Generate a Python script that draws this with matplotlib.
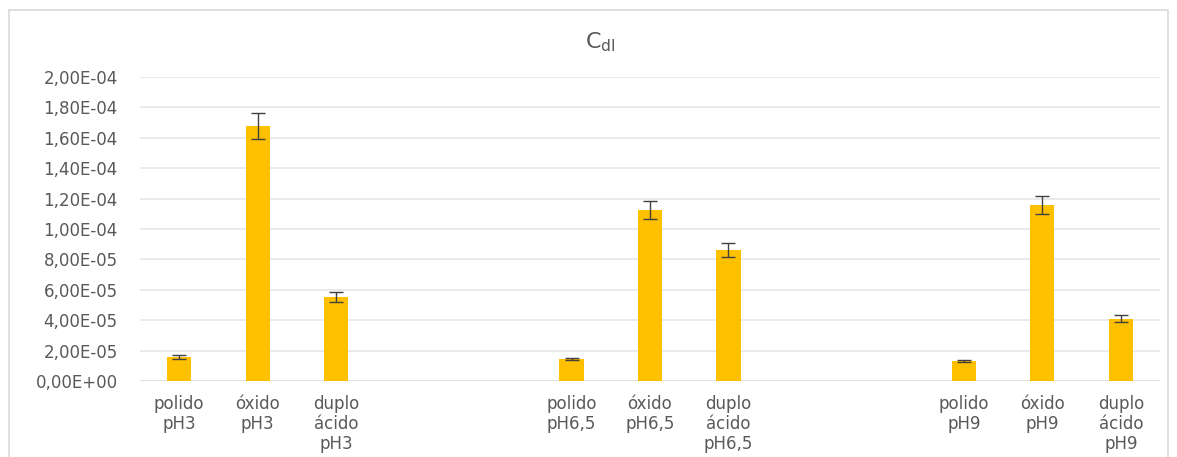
import numpy as np
import matplotlib.pyplot as plt
from matplotlib.patches import Rectangle

# categories per group, blank slots between groups
grupos = ["pH3", "pH6,5", "pH9"]
tratamentos = ["polido\n", "óxido\n", "duplo\nácido\n"]
valores = [1.58e-5, 1.68e-4, 5.53e-5,
           1.45e-5, 1.125e-4, 8.62e-5,
           1.32e-5, 1.158e-4, 4.08e-5]
erros = [0.1e-5, 0.85e-5, 0.3e-5,
         0.05e-5, 0.6e-5, 0.43e-5,
         0.05e-5, 0.6e-5, 0.23e-5]
yticks = np.arange(0, 2.01e-4, 2e-5)

cinza = "#595959"
fig = plt.figure(figsize=(11.77, 4.57), dpi=100)
ax = fig.add_axes([140/1177, 1 - 381/457, 1020/1177, 304/457])

labels = []
pos = []
for g, grupo in enumerate(grupos):
    for t, trat in enumerate(tratamentos):
        pos.append(g * 5 + t)
        labels.append(trat + grupo)

ax.bar(pos, valores, width=0.31, color="#FFC000", zorder=3)
ax.errorbar(pos, valores, yerr=erros, fmt="none", ecolor="#404040",
            elinewidth=1, capsize=5, capthick=1, zorder=4)

ax.set_xlim(-0.5, 12.5)
ax.set_ylim(0, 2e-4)
ax.set_yticks(yticks)
ax.set_yticklabels([("%.2E" % v).replace(".", ",") for v in yticks])
ax.set_xticks(pos)
ax.set_xticklabels(labels, linespacing=1.15)
ax.tick_params(axis="both", length=0, colors=cinza, labelsize=12)
ax.tick_params(axis="x", pad=10)
ax.tick_params(axis="y", pad=16)
ax.grid(axis="y", color="#E6E6E6", linewidth=1.2, zorder=0)
for s in ax.spines.values():
    s.set_visible(False)
ax.axhline(0, color="#E0E0E0", linewidth=1.2, zorder=2)

fig.text(600/1177, 1 - 42/457, r"C$_{\mathrm{dl}}$", ha="center", va="center",
         fontsize=16, color=cinza)

fig.patches.append(Rectangle((9/1177, -0.05), 1159/1177, 1 - 10/457 + 0.05,
                             transform=fig.transFigure, fill=False,
                             edgecolor="#D9D9D9", linewidth=1.2))

fig.savefig("out.png", dpi=100)
